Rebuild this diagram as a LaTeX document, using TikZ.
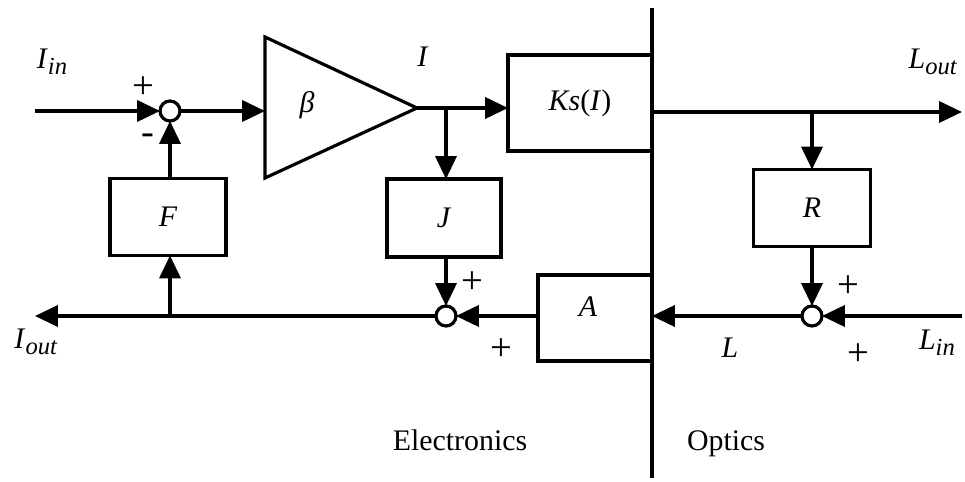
\documentclass[tikz,border=0pt]{standalone}
\usepackage{fontspec}
\setmainfont{Liberation Serif}
\usetikzlibrary{arrows.meta}
\newcommand{\isub}[2]{\textit{#1}\raisebox{-0.45ex}{\fontsize{14}{14}\selectfont\textit{#2}}}
\tikzset{
  wire/.style={line width=1.8pt},
  arr/.style={wire,-{Triangle[length=13pt,width=12pt]}},
  blk/.style={draw,line width=1.8pt,fill=white,inner sep=0pt,outer sep=0pt},
  sumc/.style={draw,circle,line width=1.8pt,fill=white,minimum size=0.4cm,inner sep=0pt,outer sep=0pt},
  lbl/.style={font=\fontsize{17}{19}\selectfont,inner sep=0pt},
  sgn/.style={font=\fontsize{22}{24}\selectfont,inner sep=0pt},
}
\begin{document}
\begin{tikzpicture}[x=0.02cm,y=-0.02cm]
\useasboundingbox (0,0) rectangle (965,482);
% divider
\coordinate (vtop) at (652,8);
\coordinate (vbot) at (652,478);
\draw[wire] (vtop) -- (vbot);
% blocks
\node[blk,minimum width=2.32cm,minimum height=1.54cm] (F) at (168,217) {};
\node[blk,minimum width=2.28cm,minimum height=1.56cm] (J) at (444,218) {};
\node[blk,minimum width=2.88cm,minimum height=1.92cm] (Ks) at (580,103) {};
\node[blk,minimum width=2.28cm,minimum height=1.72cm] (A) at (595,318) {};
\node[blk,minimum width=2.34cm,minimum height=1.54cm] (R) at (812,208) {};
% amplifier
\coordinate (ta) at (265,37);
\coordinate (tb) at (265,178);
\coordinate (tip) at (417,108);
\coordinate (triin) at (265,111);
\draw[wire,line join=miter] (ta) -- (tip) -- (tb) -- cycle;
% summing junctions
\node[sumc] (s1) at (170,111) {};
\node[sumc] (s2) at (446,316) {};
\node[sumc] (s3) at (812,316) {};
% free ends
\coordinate (inL) at (35,111);
\coordinate (outL) at (35,316);
\coordinate (outR) at (962,112);
\coordinate (inR) at (962,316);
\coordinate (ksout) at (652,112);
\coordinate (vin) at (652,316);
\coordinate (br1) at (446,108);
\coordinate (brF) at (170,316);
\coordinate (br3) at (812,112);
% connectors
\draw[arr] (inL) -- (s1);
\draw[arr] (s1) -- (triin);
\draw[arr] (tip) -- (tip -| Ks.west);
\draw[arr] (br1) -- (br1 |- J.north);
\draw[arr] (br1 |- J.south) -- (s2);
\draw[arr] (A.west |- s2) -- (s2);
\draw[arr] (s2) -- (outL);
\draw[arr] (brF) -- (brF |- F.south);
\draw[arr] (s1 |- F.north) -- (s1);
\draw[arr] (ksout) -- (outR);
\draw[arr] (br3) -- (br3 |- R.north);
\draw[arr] (br3 |- R.south) -- (s3);
\draw[arr] (inR) -- (s3);
\draw[arr] (s3) -- (vin);
% labels
\node[lbl] (lIin) at (52,62) {\isub{I}{in}};
\node[sgn] (lp1) at (143,88) {+};
\node[sgn] (lm1) at (148,139) {-};
\node[lbl] (lbeta) at (307,105) {\textit{β}};
\node[lbl] (lI) at (423,57) {\textit{I}};
\node[lbl] (lKs) at (Ks) {\textit{Ks}(\textit{I})};
\node[lbl] (lLout) at (933,62) {\isub{L}{out}};
\node[lbl] (lJ) at (J) {\textit{J}};
\node[lbl] (lF) at (F) {\textit{F}};
\node[lbl] (lR) at (R) {\textit{R}};
\node[lbl] (lA) at (588,307) {\textit{A}};
\node[lbl] (lIout) at (36,342) {\isub{I}{out}};
\node[sgn] (lp2) at (472,283) {+};
\node[sgn] (lp3) at (501,350) {+};
\node[lbl] (lL) at (730,348) {\textit{L}};
\node[sgn] (lp4) at (848,287) {+};
\node[sgn] (lp5) at (858,355) {+};
\node[lbl] (lLin) at (937,343) {\isub{L}{in}};
\node[lbl,anchor=base] (lel) at (460,451) {Electronics};
\node[lbl,anchor=base] (lop) at (726,451) {Optics};
\end{tikzpicture}
\end{document}
